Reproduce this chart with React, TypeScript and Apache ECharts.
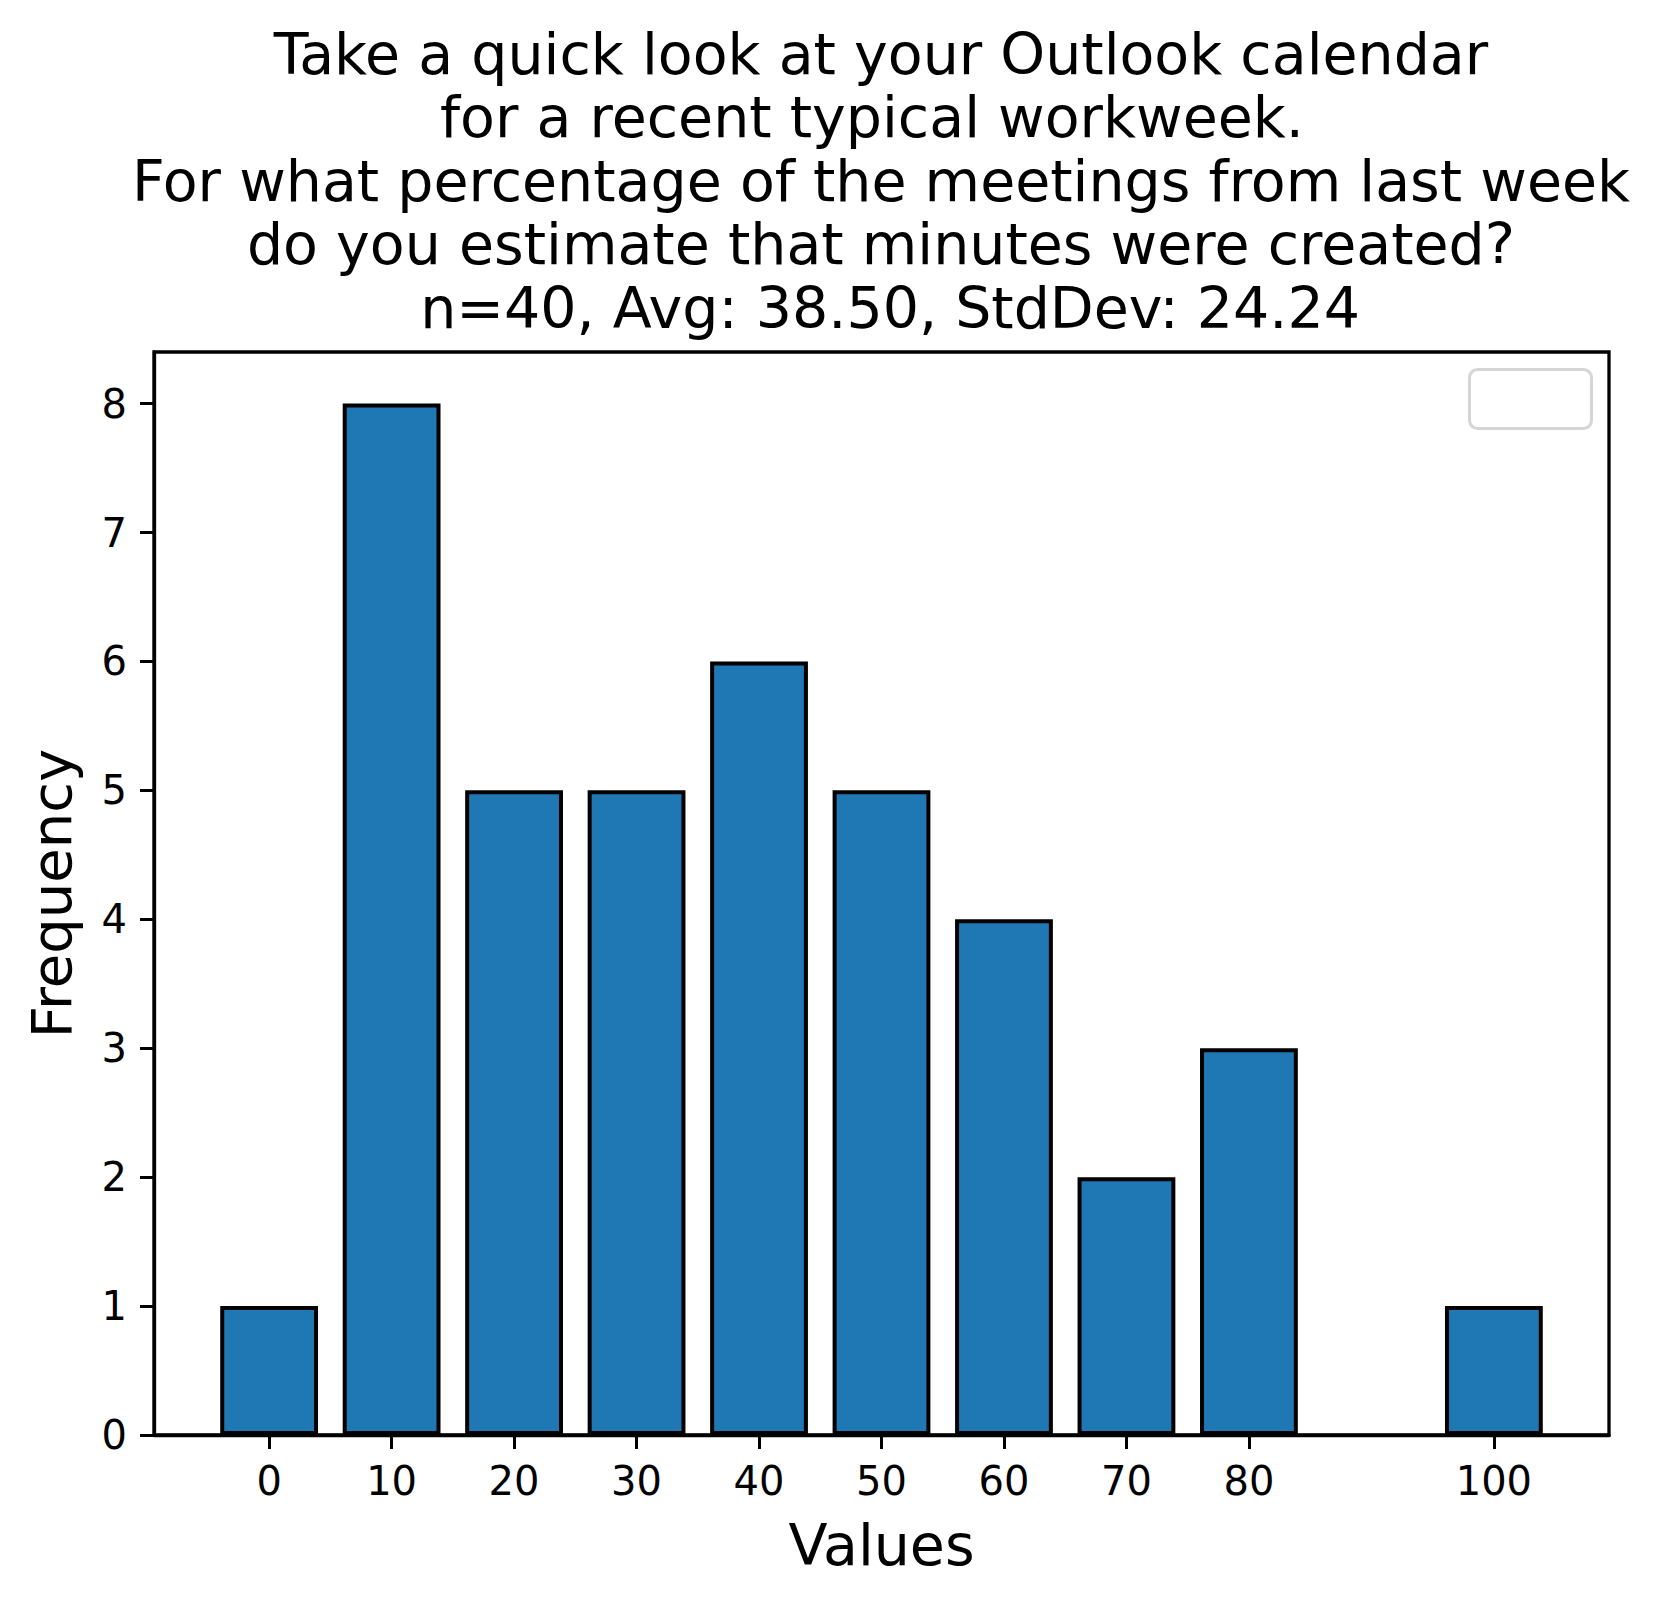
import React, { useEffect, useRef } from 'react';
import * as echarts from 'echarts';

const titleLines = [
  'Take a quick look at your Outlook calendar',
  'for a recent typical workweek. ',
  'For what percentage of the meetings from last week',
  'do you estimate that minutes were created?',
  ' n=40, Avg: 38.50, StdDev: 24.24',
];
const binValues = [0, 10, 20, 30, 40, 50, 60, 70, 80, 100];
const frequencies = [1, 8, 5, 5, 6, 5, 4, 2, 3, 1];
const xTickValues = [0, 10, 20, 30, 40, 50, 60, 70, 80, 100];
const yTickValues = [0, 1, 2, 3, 4, 5, 6, 7, 8];
const xAxisName = 'Values';
const yAxisName = 'Frequency';

const FONT = '"DejaVu Sans", sans-serif';
const TITLE_SIZE = 57;
const TITLE_LINE = 63.5;
const TITLE_CENTER = 881;

export default function App() {
  const ref = useRef<HTMLDivElement>(null);
  useEffect(() => {
    document.body.style.margin = '0';
    if (!ref.current) return;
    const chart = echarts.init(ref.current, null, { renderer: 'svg' });

    // matplotlib keeps leading/trailing spaces when centring each line;
    // shift by half a space width to reproduce that.
    const spaceW = 0.318 * TITLE_SIZE;
    const titleTexts = titleLines.map((line, i) => {
      let shift = 0;
      if (line.endsWith(' ')) shift -= spaceW / 2;
      if (line.startsWith(' ')) shift += spaceW / 2;
      return {
        type: 'text',
        x: TITLE_CENTER + shift,
        y: 22 + i * TITLE_LINE,
        z: 10,
        style: {
          text: line.trim(),
          font: `${TITLE_SIZE}px ${FONT}`,
          fill: '#000000',
          textAlign: 'center',
          textVerticalAlign: 'top',
          lineHeight: TITLE_LINE,
        },
      };
    });

    const option: any = {
      animation: false,
      backgroundColor: '#ffffff',
      grid: {
        left: 154,
        top: 352,
        width: 1455,
        height: 1083,
        show: true,
        borderColor: '#000000',
        borderWidth: 3.3,
        backgroundColor: 'transparent',
        containLabel: false,
      },
      graphic: [
        ...titleTexts,
        {
          type: 'rect',
          z: 10,
          shape: { x: 1469.5, y: 369.5, width: 122, height: 59, r: 8 },
          style: { fill: '#ffffff', stroke: '#d5d5d5', lineWidth: 3 },
        },
      ],
      xAxis: {
        type: 'value',
        min: -9.4,
        max: 109.4,
        name: xAxisName,
        nameLocation: 'middle',
        nameGap: 81,
        nameTextStyle: { fontSize: 57, lineHeight: 57, color: '#000', fontFamily: FONT },
        axisLine: { show: true, onZero: false, lineStyle: { color: '#000', width: 3.3 } },
        axisTick: {
          show: true,
          length: 14,
          inside: false,
          lineStyle: { color: '#000', width: 3 },
          customValues: xTickValues,
        },
        axisLabel: {
          show: true,
          fontSize: 40,
          lineHeight: 40,
          color: '#000',
          fontFamily: FONT,
          margin: 26,
          customValues: xTickValues,
        },
        splitLine: { show: false },
      },
      yAxis: {
        type: 'value',
        min: 0,
        max: 8.4,
        name: yAxisName,
        nameLocation: 'middle',
        nameGap: 75,
        nameRotate: 90,
        nameTextStyle: { fontSize: 56, lineHeight: 56, color: '#000', fontFamily: FONT },
        axisLine: { show: true, onZero: false, lineStyle: { color: '#000', width: 3.3 } },
        axisTick: {
          show: true,
          length: 14,
          inside: false,
          lineStyle: { color: '#000', width: 3 },
          customValues: yTickValues,
        },
        axisLabel: {
          show: true,
          fontSize: 40,
          lineHeight: 40,
          color: '#000',
          fontFamily: FONT,
          margin: 27,
          customValues: yTickValues,
        },
        splitLine: { show: false },
      },
      series: [
        {
          type: 'bar',
          data: binValues.map((v, i) => [v, frequencies[i]]),
          barWidth: 97.8,
          itemStyle: { color: '#1f77b4', borderColor: '#000000', borderWidth: 4 },
        },
      ],
    };
    chart.setOption(option);
    return () => chart.dispose();
  }, []);
  return <div ref={ref} style={{ width: 1660, height: 1604 }} />;
}
